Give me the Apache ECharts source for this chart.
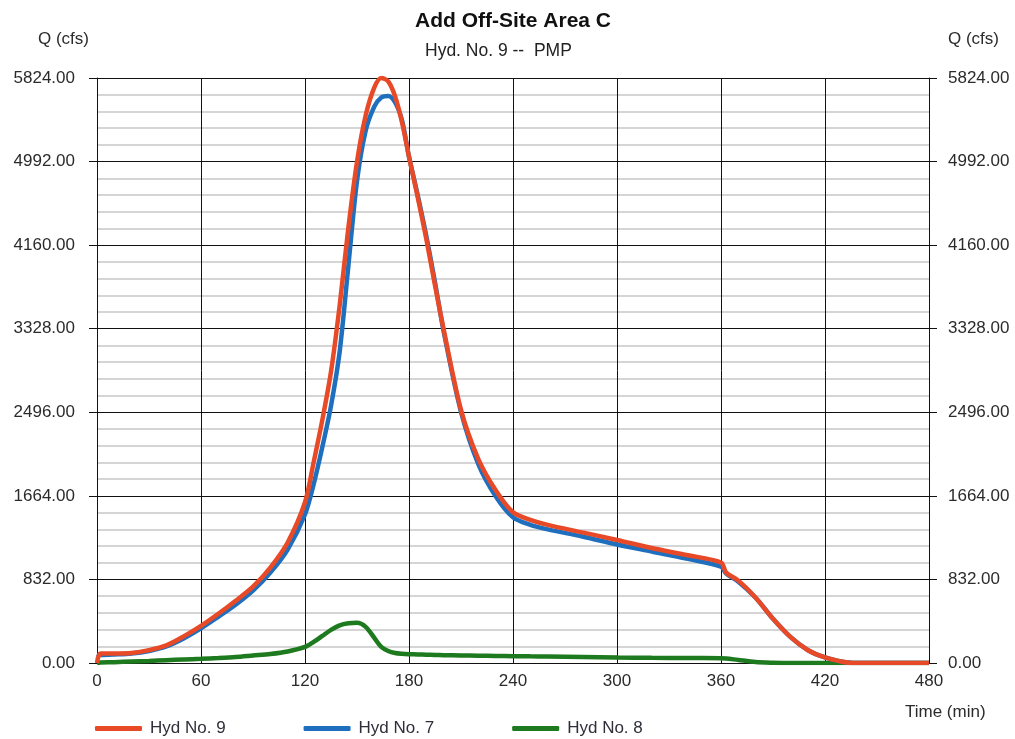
<!DOCTYPE html>
<html>
<head>
<meta charset="utf-8">
<script src="https://cdn.jsdelivr.net/npm/echarts@6/dist/echarts.min.js"></script>
<style>
  html, body { margin: 0; padding: 0; background: #fff; }
  #chart { width: 1015px; height: 739px; }
</style>
</head>
<body>
<div id="chart"></div>
<script>
const time = [0, 2, 10, 20, 30, 40, 50, 60, 70, 80, 90, 100, 110, 120, 125, 130, 135, 140, 145, 150,
  155, 160, 164, 168, 172, 176, 180, 185, 190, 195, 200, 210, 220, 230, 240, 250, 260, 280, 300, 320,
  340, 360, 363, 370, 380, 390, 400, 410, 420, 430, 436, 450, 480];
const hyd9 = [0, 95, 95, 100, 128, 175, 265, 370, 490, 620, 760, 950, 1200, 1600, 2000, 2420, 2900, 3560, 4330, 4990,
  5450, 5730, 5824, 5790, 5640, 5380, 5040, 4640, 4220, 3760, 3320, 2520, 2030, 1720, 1500, 1425, 1375, 1300, 1225, 1145,
  1075, 1000, 900, 820, 650, 440, 260, 130, 55, 12, 0, 0, 0];
const hyd7 = [90, 80, 85, 95, 120, 165, 245, 345, 460, 580, 720, 900, 1130, 1480, 1780, 2150, 2560, 3100, 3950, 4800,
  5300, 5540, 5630, 5645, 5580, 5400, 5040, 4660, 4250, 3790, 3300, 2500, 1980, 1660, 1450, 1375, 1330, 1260, 1180, 1110,
  1040, 960, 890, 810, 650, 440, 260, 130, 55, 12, 0, 0, 0];
const hyd8 = [0, 5, 8, 15, 20, 28, 35, 42, 50, 60, 75, 90, 115, 160, 210, 270, 330, 375, 395, 400,
  360, 250, 160, 120, 100, 92, 88, 85, 82, 80, 78, 75, 72, 70, 68, 66, 65, 60, 55, 52,
  50, 48, 45, 30, 10, 3, 0, 0, 0, 0, 0, 0, 0];
const seriesNames = ['Hyd No. 9', 'Hyd No. 7', 'Hyd No. 8'];
const seriesColors = ['#e84a27', '#1f6fbf', '#1e7a1e'];
const xTicks = { min: 0, max: 480, interval: 60 };
const yTicks = { min: 0, max: 5824, interval: 832 };

const font = '"Liberation Sans", Arial, sans-serif';
const chart = echarts.init(document.getElementById('chart'));

function pairs(vals) {
  return time.map((t, i) => [t, vals[i]]);
}

function yAxisFor(pos, margin) {
  return {
    type: 'value',
    position: pos,
    min: yTicks.min,
    max: yTicks.max,
    interval: yTicks.interval,
    axisLine: { show: true, lineStyle: { color: '#111', width: 1 } },
    axisTick: { show: true, length: 8, lineStyle: { color: '#111' } },
    axisLabel: {
      margin: margin,
      fontSize: 17,
      fontFamily: font,
      color: '#2b2b2b',
      formatter: v => v.toFixed(2)
    },
    splitLine: { show: pos === 'left', lineStyle: { color: '#111', width: 1 } },
    minorTick: { show: false, splitNumber: 5 },
    minorSplitLine: { show: pos === 'left', lineStyle: { color: '#c8c8c8', width: 1.5 } }
  };
}

const all = [hyd9, hyd7, hyd8];
chart.setOption({
  backgroundColor: '#fff',
  animation: false,
  title: [{
    text: 'Add Off-Site Area C',
    left: 415,
    top: 11,
    padding: 0,
    textStyle: { fontSize: 21, fontWeight: 'bold', fontFamily: font, color: '#111' }
  }, {
    text: 'Hyd. No. 9 --  PMP',
    left: 425,
    top: 42,
    padding: 0,
    textStyle: { fontSize: 17.5, fontWeight: 'normal', fontFamily: font, color: '#222' }
  }],
  grid: { left: 97, right: 86, top: 78, bottom: 76 },
  legend: {
    data: seriesNames,
    left: 95,
    top: 720,
    padding: 0,
    icon: 'roundRect',
    itemWidth: 47,
    itemHeight: 5,
    itemGap: 78,
    textStyle: { fontSize: 17, fontFamily: font, color: '#2f2f3a', padding: [0, 0, 0, 3] }
  },
  xAxis: {
    type: 'value',
    min: xTicks.min,
    max: xTicks.max,
    interval: xTicks.interval,
    axisLine: { show: true, lineStyle: { color: '#111' } },
    axisTick: { show: false },
    axisLabel: { margin: 10, fontSize: 17, fontFamily: font, color: '#2b2b2b' },
    splitLine: { show: true, lineStyle: { color: '#111', width: 1 } }
  },
  yAxis: [yAxisFor('left', 22), yAxisFor('right', 19)],
  graphic: [
    { type: 'text', left: 38, top: 31, style: { text: 'Q (cfs)', fontSize: 17, fontFamily: font, fill: '#2b2b2b' } },
    { type: 'text', left: 948, top: 31, style: { text: 'Q (cfs)', fontSize: 17, fontFamily: font, fill: '#2b2b2b' } },
    { type: 'text', left: 905, top: 704, style: { text: 'Time (min)', fontSize: 17, fontFamily: font, fill: '#2b2b2b' } }
  ],
  series: seriesNames.map((name, i) => ({
    name: name,
    type: 'line',
    data: pairs(all[i]),
    showSymbol: false,
    smooth: 0.3,
    z: 10 - i,
    color: seriesColors[i],
    lineStyle: { width: 4.5, color: seriesColors[i] }
  }))
});
</script>
</body>
</html>
